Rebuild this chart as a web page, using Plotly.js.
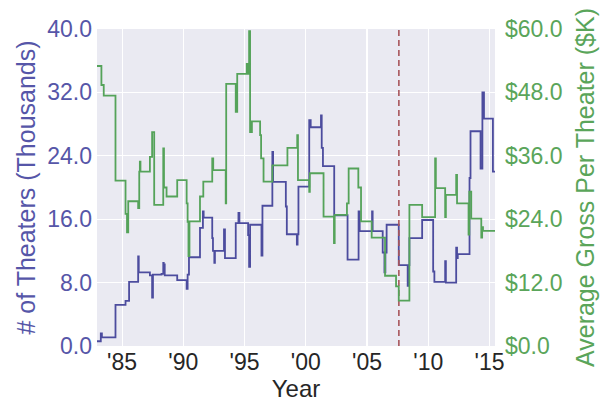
<!DOCTYPE html>
<html>
<head>
<meta charset="utf-8">
<script src="https://cdn.plot.ly/plotly-3.0.1.min.js"></script>
<style>html,body{margin:0;padding:0;background:#fff;}#chart{width:610px;height:419px;}</style>
</head>
<body>
<div id="chart"></div>
<script>
// Number of theaters (thousands), step series
var theaterYears = [1982.95,1983.26,1983.35,1984.46,1985.28,1985.57,1986.31,1986.36,1987.27,1987.45,1987.52,1988.22,1988.36,1988.40,1988.44,1988.48,1989.50,1990.27,1990.35,1990.46,1991.36,1991.60,1991.66,1992.36,1992.42,1992.53,1992.58,1993.32,1993.40,1994.28,1994.50,1994.58,1995.29,1995.37,1995.45,1996.38,1996.46,1997.27,1997.33,1998.37,1998.45,1999.27,1999.33,1999.40,2000.28,2000.40,2001.24,2001.30,2001.40,2002.32,2003.41,2004.31,2004.40,2005.41,2005.46,2006.28,2006.42,2006.50,2006.60,2007.59,2008.32,2008.40,2008.46,2009.50,2010.40,2010.50,2011.38,2011.44,2012.28,2012.35,2012.41,2013.37,2013.45,2014.27,2014.42,2014.55,2015.28,2015.45];
var theaterValues = [0.6,1.6,1.1,5.2,5.7,8.1,11.3,9.3,8.9,6.1,9.0,9.1,10.5,9.2,10.3,8.9,8.3,7.2,9.0,11.2,14.9,17.0,16.2,13.6,12.0,10.5,12.0,14.7,11.1,15.5,16.8,15.5,14.0,10.0,15.3,11.4,17.7,24.5,20.7,17.6,14.1,12.8,14.1,20.1,28.5,27.6,29.1,25.0,22.7,16.5,10.9,17.0,14.5,17.0,14.5,11.8,9.3,11.8,15.3,10.2,7.6,10.2,13.6,15.9,9.4,8.1,10.7,8.0,12.4,11.1,11.6,21.2,27.1,22.4,32.0,28.7,22.0,22.0];

// Average gross per theater ($K), step series
var grossYears = [1982.95,1983.31,1983.50,1984.46,1985.28,1985.40,1985.50,1986.31,1986.40,1986.45,1986.50,1987.27,1987.45,1987.62,1988.36,1988.42,1988.63,1989.50,1990.27,1990.35,1990.42,1990.50,1991.36,1991.63,1992.36,1992.44,1993.46,1993.50,1994.28,1994.40,1995.18,1995.25,1995.37,1995.45,1995.60,1996.27,1996.35,1996.55,1997.27,1998.50,1999.30,1999.36,2000.28,2000.33,2001.45,2002.30,2002.36,2003.36,2003.50,2004.29,2004.51,2005.38,2006.47,2007.37,2007.59,2008.46,2009.50,2010.56,2010.62,2011.38,2011.44,2012.28,2012.35,2013.29,2013.35,2013.51,2014.33,2014.40,2014.47,2015.45];
var grossValues = [53.0,49.4,47.4,31.3,25.0,21.5,27.4,26.1,33.0,34.9,33.0,35.8,40.5,26.7,37.4,30.0,28.3,31.4,27.0,23.5,17.0,23.6,28.3,31.1,35.5,33.3,27.0,49.6,44.3,51.5,53.4,51.5,59.6,40.5,42.5,39.9,35.5,31.1,34.2,37.5,39.9,31.4,29.2,32.7,24.5,19.5,24.8,27.0,33.6,30.0,23.6,20.5,13.3,11.3,8.6,26.7,24.4,35.5,29.9,24.4,28.6,32.4,27.0,21.1,29.2,24.1,20.5,22.5,21.8,21.8];

// Marker year (dashed line)
var markerYear = 2007.6;

// Axis ticks
var xTickVals = [1985,1990,1995,2000,2005,2010,2015];
var xTickText = ["'85","'90","'95","'00","'05","'10","'15"];
var leftTickVals = [0,8,16,24,32,40];
var leftTickText = ["0.0","8.0","16.0","24.0","32.0","40.0"];
var rightTickVals = [0,12,24,36,48,60];
var rightTickText = ["$0.0","$12.0","$24.0","$36.0","$48.0","$60.0"];

var blue = '#4c4c9e';
var blueText = '#5656a8';
var green = '#55a35a';
var greenText = '#5aa55a';
var font = 'Arial, "Liberation Sans", sans-serif';

var traces = [
  {x: theaterYears, y: theaterValues, type: 'scatter', mode: 'lines',
   line: {shape: 'hv', color: blue, width: 1.8}, xaxis: 'x', yaxis: 'y', hoverinfo: 'skip'},
  {x: grossYears, y: grossValues, type: 'scatter', mode: 'lines',
   line: {shape: 'hv', color: green, width: 1.8}, xaxis: 'x', yaxis: 'y2', hoverinfo: 'skip'},
  {x: [markerYear, markerYear], y: [0, 40], type: 'scatter', mode: 'lines',
   line: {color: '#a8555a', width: 1.6, dash: '6px,4px'}, xaxis: 'x', yaxis: 'y', hoverinfo: 'skip'}
];

var layout = {
  width: 610, height: 419,
  margin: {l: 97, r: 115, t: 29, b: 73},
  paper_bgcolor: '#ffffff',
  plot_bgcolor: '#eaeaf2',
  showlegend: false,
  font: {family: font, size: 23, color: '#262626'},
  xaxis: {
    range: [1982.95, 2015.45],
    tickvals: xTickVals, ticktext: xTickText,
    showgrid: true, gridcolor: '#ffffff', gridwidth: 1.2,
    zeroline: false, showline: false, ticks: '',
    ticklabelstandoff: 0,
    tickfont: {family: font, size: 23, color: '#262626'},
    title: {text: 'Year', font: {family: font, size: 24, color: '#262626'}, standoff: 0}
  },
  yaxis: {
    range: [0, 40],
    tickvals: leftTickVals, ticktext: leftTickText,
    showgrid: true, gridcolor: '#ffffff', gridwidth: 1.2,
    zeroline: false, showline: false, ticks: '',
    ticklabelstandoff: 4,
    tickfont: {family: font, size: 23, color: blueText},
    title: {text: '# of Theaters (Thousands)', font: {family: font, size: 25, color: blueText}, standoff: 4}
  },
  yaxis2: {
    range: [0, 60], overlaying: 'y', side: 'right',
    tickvals: rightTickVals, ticktext: rightTickText,
    showgrid: false, zeroline: false, showline: false, ticks: '',
    ticklabelstandoff: 9,
    tickfont: {family: font, size: 23, color: greenText},
    title: {text: 'Average Gross Per Theater ($K)', font: {family: font, size: 25, color: greenText}, standoff: 14}
  }
};

Plotly.newPlot('chart', traces, layout, {staticPlot: true, displayModeBar: false});
</script>
</body>
</html>
